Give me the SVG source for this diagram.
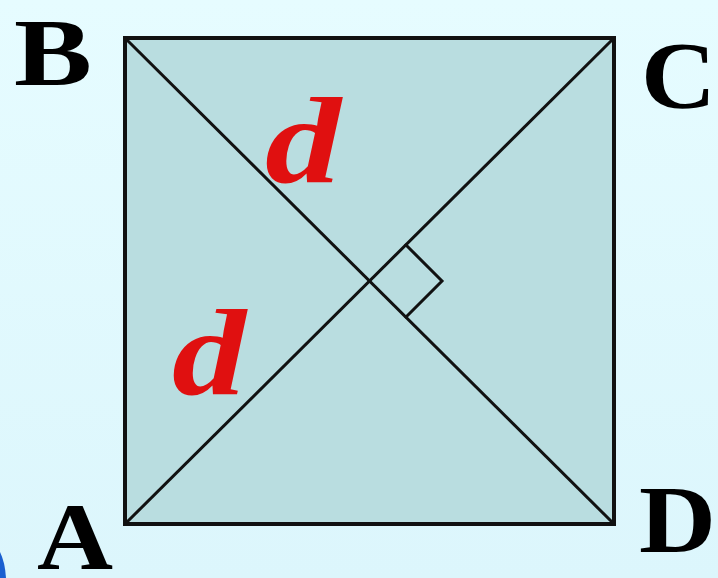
<svg xmlns="http://www.w3.org/2000/svg" width="718" height="578" viewBox="0 0 718 578">
<defs>
<linearGradient id="bg" x1="0" y1="0" x2="0" y2="1">
<stop offset="0" stop-color="#e6fcff"/>
<stop offset="1" stop-color="#dcf6fc"/>
</linearGradient>
<style>
.lbl{font-family:"Liberation Serif","DejaVu Serif",serif;font-weight:bold;font-size:96px;fill:#000}
.d{font-family:"Liberation Serif","DejaVu Serif",serif;font-weight:bold;font-style:italic;font-size:122px;fill:#e01010}
.ln{stroke:#111;stroke-width:3;fill:none}
</style>
</defs>
<rect width="718" height="578" fill="url(#bg)"/>
<path d="M0,552 Q5,562 6,578 L0,578 Z" fill="#1a5fd0"/>
<g id="square">
<rect x="125" y="38" width="489" height="486" fill="#b9dde0" stroke="#111" stroke-width="4"/>
</g>
<g id="connectors">
<line class="ln" x1="125" y1="38" x2="614" y2="524"/>
<line class="ln" x1="125" y1="524" x2="614" y2="38"/>
<polyline class="ln" points="405,244 442,281 405,318"/>
</g>
<g id="labels">
<text class="lbl" x="14" y="85" textLength="78" lengthAdjust="spacingAndGlyphs">B</text>
<text class="lbl" x="641" y="108" textLength="75" lengthAdjust="spacingAndGlyphs">C</text>
<text class="lbl" x="37" y="569" textLength="76" lengthAdjust="spacingAndGlyphs">A</text>
<text class="lbl" x="639" y="552" textLength="77" lengthAdjust="spacingAndGlyphs">D</text>
<text class="d" x="265" y="182" textLength="76" lengthAdjust="spacingAndGlyphs">d</text>
<text class="d" x="172" y="394" textLength="74" lengthAdjust="spacingAndGlyphs">d</text>
</g>
</svg>
